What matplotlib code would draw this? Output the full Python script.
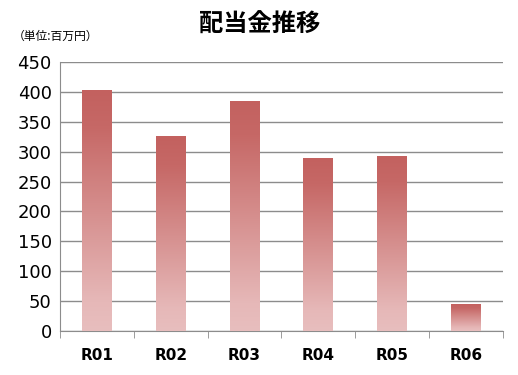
import matplotlib
matplotlib.use("Agg")
import matplotlib.pyplot as plt
import numpy as np
from matplotlib.colors import LinearSegmentedColormap

categories = ["R01", "R02", "R03", "R04", "R05", "R06"]
values = [403, 326, 385, 289, 293, 45]
title = "配当金推移"
unit_label = "（単位:百万円）"
yticks = [0, 50, 100, 150, 200, 250, 300, 350, 400, 450]

plt.rcParams['font.family'] = ['Noto Sans CJK JP', 'DejaVu Sans']

fig = plt.figure(figsize=(5.18, 3.75), dpi=100)
ax = fig.add_axes([0.1158, 0.1173, 0.971 - 0.1158, 0.8347 - 0.1173])

cmap = LinearSegmentedColormap.from_list(
    "g", [(0.0, "#E8BEBE"), (0.12, "#E6B8B8"), (0.85, "#C66866"), (1.0, "#C3615F")])
grad = np.linspace(0, 1, 256).reshape(-1, 1)

x = np.arange(len(categories))
width = 0.405
bars = ax.bar(x, values, width=width, color="none", edgecolor="none", zorder=3)
for b in bars:
    x0, y0 = b.get_x(), b.get_y()
    w, h = b.get_width(), b.get_height()
    im = ax.imshow(grad, cmap=cmap, aspect="auto", origin="lower",
                   extent=[x0, x0 + w, y0, y0 + h], zorder=3)
    im.set_clip_path(b)

ax.set_xlim(-0.5, len(categories) - 0.5)
ax.set_ylim(0, 450)
ax.set_yticks(yticks)
ax.set_yticklabels([str(v) for v in yticks], fontsize=13, family=['DejaVu Sans'])
ax.yaxis.grid(True, color="#8C8C8C", linewidth=1.0, zorder=0)
ax.set_axisbelow(True)

ax.set_xticks(x)
ax.set_xticklabels(categories, fontsize=11, fontweight="bold", family=['DejaVu Sans'])
ax.set_xticks(np.arange(-0.5, len(categories)), minor=True)
ax.tick_params(axis="x", which="major", length=0, pad=12)
ax.tick_params(axis="x", which="minor", length=5, color="#8C8C8C", direction="out")
ax.tick_params(axis="y", length=0, pad=6)

for s in ["top", "right"]:
    ax.spines[s].set_visible(False)
ax.spines["left"].set_color("#8C8C8C")
ax.spines["bottom"].set_color("#8C8C8C")

fig.text(0.502, 0.933, title, ha="center", va="center", fontsize=17.5, fontweight="bold")
fig.text(0.025, 0.902, unit_label, ha="left", va="center", fontsize=8.5)

fig.savefig("out.png", dpi=100)
